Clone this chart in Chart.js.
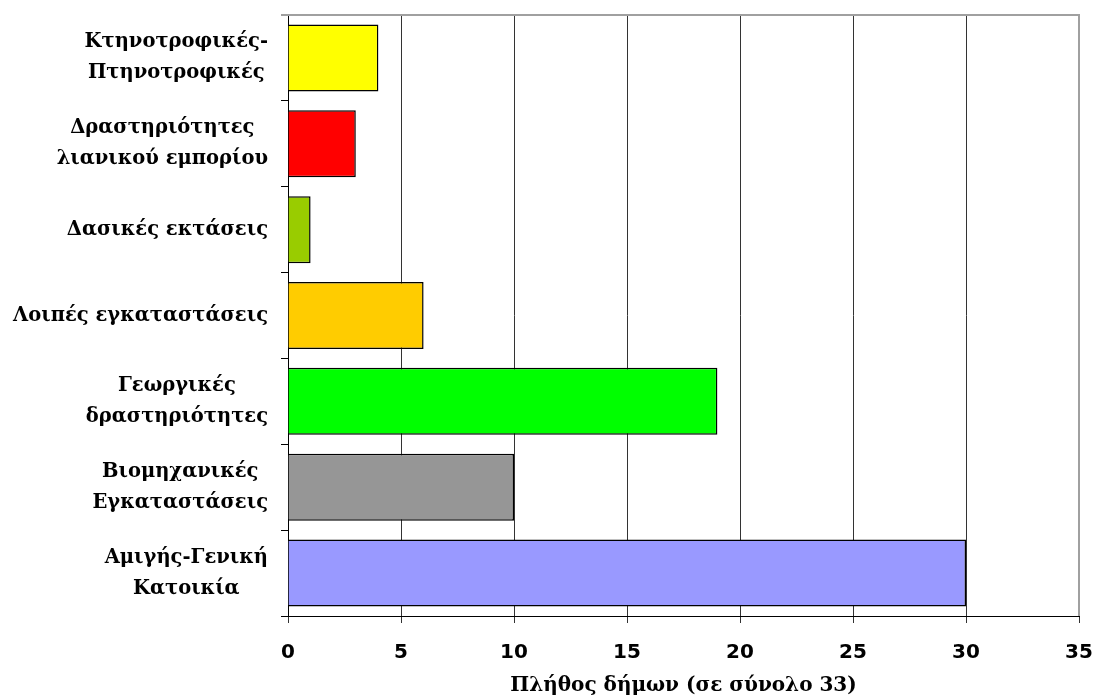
<!DOCTYPE html>
<html>
<head>
<meta charset="utf-8">
<script src="https://cdn.jsdelivr.net/npm/chart.js@4.4.0/dist/chart.umd.min.js"></script>
<style>
  body { margin: 0; background: #fff; }
  canvas { display: block; }
</style>
</head>
<body>
<canvas id="chart" width="1096" height="698"></canvas>
<script>
// Κατηγορίες χρήσεων (από πάνω προς τα κάτω)
const categories = [
    ['Κτηνοτροφικές-', 'Πτηνοτροφικές'],
    ['Δραστηριότητες', 'λιανικού εμπορίου'],
    ['Δασικές εκτάσεις'],
    ['Λοιπές εγκαταστάσεις'],
    ['Γεωργικές', 'δραστηριότητες'],
    ['Βιομηχανικές', 'Εγκαταστάσεις'],
    ['Αμιγής-Γενική', 'Κατοικία']
];
const counts = [4, 3, 1, 6, 19, 10, 30];
const barColors = ['#ffff00', '#ff0000', '#99cc00', '#ffcc00', '#00ff00', '#969696', '#9999ff'];
const xMin = 0, xMax = 35, xStep = 5;
const xTitle = 'Πλήθος δήμων (σε σύνολο 33)';

const labelFont = 'bold 19.5px "DejaVu Serif"';

// Ετικέτες κατηγοριών: κάθε μπλοκ δεξιά στοιχισμένο, οι γραμμές κεντραρισμένες μεταξύ τους
const blockLabels = {
    id: 'blockLabels',
    afterDraw(chart) {
        const ctx = chart.ctx;
        const y = chart.scales.y;
        ctx.save();
        ctx.font = labelFont;
        ctx.fillStyle = '#000';
        ctx.textAlign = 'center';
        ctx.textBaseline = 'middle';
        categories.forEach((lines, i) => {
            const w = Math.max(...lines.map(l => ctx.measureText(l).width));
            const cx = y.right - 20 - w / 2;
            const cy = y.getPixelForTick(i);
            lines.forEach((l, k) => {
                ctx.fillText(l, cx, cy + (k - (lines.length - 1) / 2) * 31);
            });
        });
        ctx.restore();
    }
};

// Γκρι πλαίσιο πάνω και δεξιά
const plotFrame = {
    id: 'plotFrame',
    afterDraw(chart) {
        const { ctx, chartArea: a } = chart;
        ctx.save();
        ctx.strokeStyle = '#a0a0a0';
        ctx.lineWidth = 2;
        ctx.beginPath();
        ctx.moveTo(a.left - 7, a.top);
        ctx.lineTo(a.right, a.top);
        ctx.lineTo(a.right, a.bottom);
        ctx.stroke();
        ctx.restore();
    }
};

new Chart(document.getElementById('chart').getContext('2d'), {
    type: 'bar',
    data: {
        labels: categories,
        datasets: [{
            data: counts,
            backgroundColor: barColors,
            borderColor: '#000',
            borderWidth: 1.5,
            barPercentage: 1,
            categoryPercentage: 0.78
        }]
    },
    plugins: [blockLabels, plotFrame],
    options: {
        responsive: false,
        animation: false,
        indexAxis: 'y',
        layout: { padding: { top: 15, right: 17, left: 0, bottom: 0 } },
        scales: {
            x: {
                min: xMin,
                max: xMax,
                ticks: {
                    stepSize: xStep,
                    color: '#000',
                    font: { family: '"DejaVu Sans"', size: 20, weight: 'bold' },
                    padding: 18,
                    maxRotation: 0
                },
                grid: { color: '#333', lineWidth: 1, tickLength: 7, tickColor: '#333' },
                border: { display: true, color: '#000', width: 1 },
                title: {
                    display: true,
                    text: xTitle,
                    color: '#000',
                    font: { family: '"DejaVu Serif"', size: 20, weight: 'bold' },
                    padding: { top: 0, bottom: 0 }
                },
                afterFit: (scale) => {
                    scale.height = 82;
                    scale.paddingLeft = 0;
                    scale.paddingRight = 0;
                }
            },
            y: {
                ticks: { display: false },
                grid: { drawOnChartArea: false, tickLength: 7, color: '#000', offset: true },
                border: { display: true, color: '#000', width: 1 },
                afterFit: (scale) => { scale.width = 288; }
            }
        },
        plugins: {
            legend: { display: false },
            tooltip: { enabled: false }
        }
    }
});
</script>
</body>
</html>
